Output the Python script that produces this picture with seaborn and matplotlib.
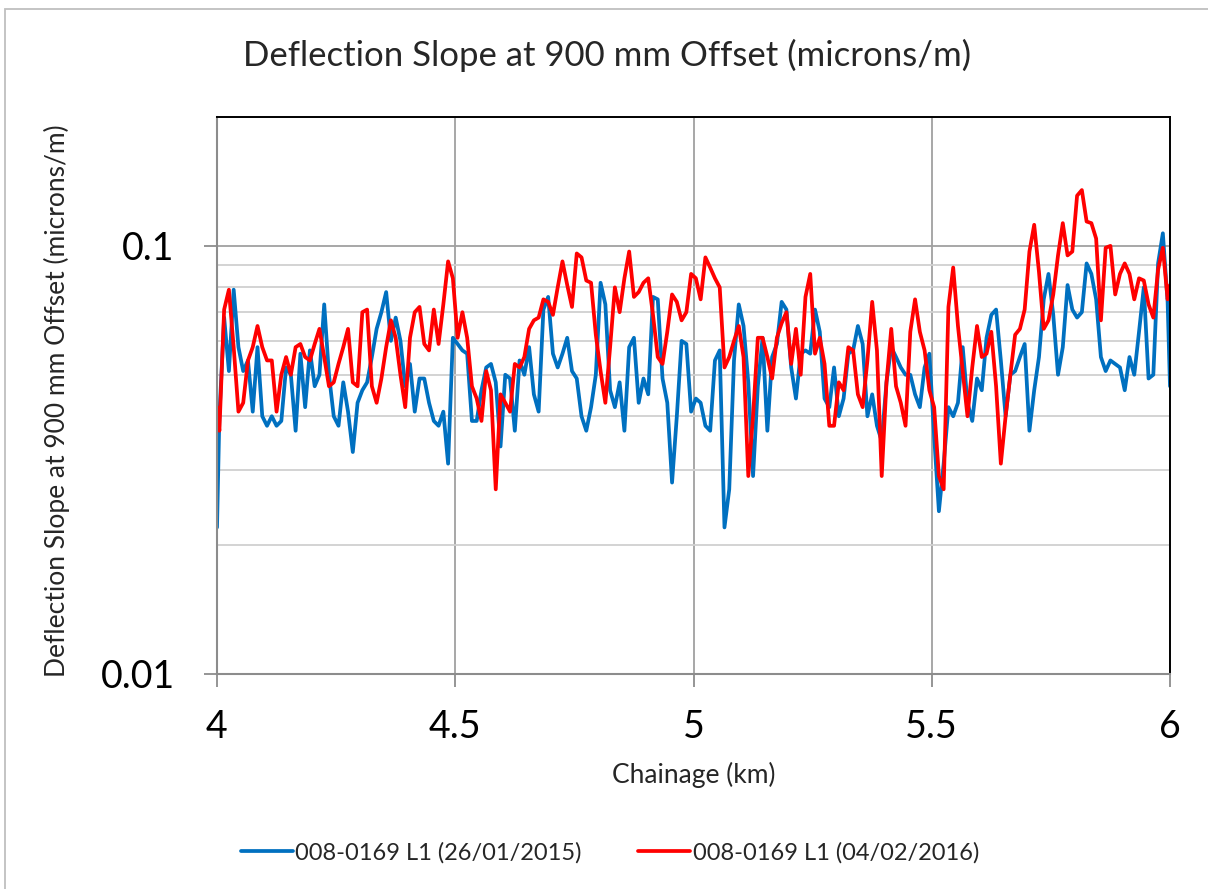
import numpy as np
import pandas as pd
import matplotlib
matplotlib.use("Agg")
import matplotlib.pyplot as plt
import seaborn as sns
from matplotlib.ticker import LogLocator, NullFormatter, FixedLocator, FixedFormatter
from matplotlib.patches import Rectangle

# ---- data -------------------------------------------------------------
chainage = np.concatenate(([4.0], np.round(np.arange(4.005, 5.9951, 0.01), 3), [6.0]))

series_2015 = [0.022,
    0.040, 0.068, 0.051, 0.079, 0.058, 0.051, 0.054, 0.041, 0.058, 0.040,
    0.038, 0.040, 0.038, 0.039, 0.052, 0.050, 0.037, 0.056, 0.042, 0.057,
    0.047, 0.050, 0.073, 0.050, 0.040, 0.038, 0.048, 0.041, 0.033, 0.043,
    0.046, 0.048, 0.055, 0.064, 0.070, 0.078, 0.060, 0.068, 0.060, 0.047,
    0.053, 0.041, 0.049, 0.049, 0.043, 0.039, 0.038, 0.041, 0.031, 0.061,
    0.059, 0.057, 0.056, 0.039, 0.039, 0.046, 0.052, 0.053, 0.048, 0.034,
    0.050, 0.049, 0.037, 0.054, 0.050, 0.058, 0.045, 0.041, 0.071, 0.076,
    0.056, 0.052, 0.056, 0.061, 0.051, 0.049, 0.040, 0.037, 0.042, 0.050,
    0.082, 0.073, 0.046, 0.042, 0.048, 0.037, 0.058, 0.061, 0.043, 0.049,
    0.045, 0.076, 0.075, 0.049, 0.043, 0.028, 0.040, 0.060, 0.059, 0.041,
    0.044, 0.043, 0.038, 0.037, 0.054, 0.057, 0.022, 0.027, 0.054, 0.073,
    0.065, 0.048, 0.029, 0.047, 0.061, 0.037, 0.055, 0.059, 0.074, 0.071,
    0.052, 0.044, 0.056, 0.057, 0.056, 0.071, 0.063, 0.044, 0.042, 0.052,
    0.040, 0.044, 0.056, 0.057, 0.065, 0.059, 0.040, 0.045, 0.038, 0.035,
    0.048, 0.058, 0.055, 0.052, 0.050, 0.050, 0.045, 0.042, 0.052, 0.056,
    0.036, 0.024, 0.031, 0.042, 0.040, 0.043, 0.058, 0.043, 0.039, 0.049,
    0.046, 0.061, 0.069, 0.071, 0.054, 0.040, 0.050, 0.051, 0.055, 0.059,
    0.037, 0.046, 0.055, 0.075, 0.086, 0.069, 0.050, 0.058, 0.081, 0.071,
    0.068, 0.070, 0.091, 0.086, 0.075, 0.055, 0.051, 0.054, 0.053, 0.052,
    0.046, 0.055, 0.050, 0.063, 0.080, 0.049, 0.050, 0.091, 0.107, 0.074,
    0.047]

series_2016 = [0.042,
    0.037, 0.071, 0.079, 0.058, 0.041, 0.043, 0.054, 0.058, 0.065, 0.058,
    0.054, 0.054, 0.041, 0.050, 0.055, 0.050, 0.058, 0.059, 0.055, 0.054,
    0.059, 0.064, 0.055, 0.047, 0.048, 0.053, 0.058, 0.064, 0.048, 0.047,
    0.070, 0.071, 0.047, 0.043, 0.049, 0.058, 0.067, 0.061, 0.050, 0.042,
    0.061, 0.070, 0.072, 0.059, 0.057, 0.071, 0.059, 0.073, 0.092, 0.084,
    0.061, 0.070, 0.061, 0.047, 0.044, 0.039, 0.051, 0.046, 0.027, 0.045,
    0.043, 0.041, 0.053, 0.052, 0.055, 0.064, 0.067, 0.068, 0.075, 0.074,
    0.069, 0.080, 0.092, 0.081, 0.072, 0.096, 0.094, 0.083, 0.082, 0.062,
    0.051, 0.043, 0.058, 0.080, 0.070, 0.084, 0.097, 0.076, 0.078, 0.082,
    0.084, 0.069, 0.055, 0.053, 0.063, 0.077, 0.074, 0.067, 0.070, 0.086,
    0.084, 0.075, 0.094, 0.089, 0.084, 0.080, 0.052, 0.055, 0.060, 0.065,
    0.055, 0.029, 0.040, 0.061, 0.061, 0.055, 0.049, 0.061, 0.066, 0.070,
    0.053, 0.064, 0.050, 0.076, 0.086, 0.056, 0.061, 0.053, 0.038, 0.038,
    0.048, 0.046, 0.058, 0.057, 0.045, 0.042, 0.054, 0.074, 0.057, 0.029,
    0.048, 0.064, 0.047, 0.043, 0.038, 0.063, 0.075, 0.063, 0.057, 0.046,
    0.042, 0.029, 0.027, 0.072, 0.089, 0.065, 0.051, 0.040, 0.052, 0.065,
    0.055, 0.056, 0.063, 0.047, 0.031, 0.040, 0.050, 0.062, 0.064, 0.071,
    0.097, 0.112, 0.087, 0.064, 0.067, 0.077, 0.095, 0.113, 0.095, 0.097,
    0.131, 0.135, 0.114, 0.113, 0.104, 0.067, 0.099, 0.100, 0.077, 0.086,
    0.091, 0.086, 0.075, 0.084, 0.083, 0.073, 0.068, 0.088, 0.099, 0.075,
    0.081]

series_names = ["008-0169 L1 (26/01/2015)", "008-0169 L1 (04/02/2016)"]
series_colors = ["#0070C0", "#FF0000"]
x_ticks = [4, 4.5, 5, 5.5, 6]
x_tick_labels = ["4", "4.5", "5", "5.5", "6"]
y_ticks = [0.01, 0.1]
y_tick_labels = ["0.01", "0.1"]

df = pd.DataFrame({
    "Chainage (km)": np.concatenate([chainage, chainage]),
    "value": np.concatenate([series_2015, series_2016]),
    "series": [series_names[0]] * len(chainage) + [series_names[1]] * len(chainage),
})

# ---- plot -------------------------------------------------------------
sns.set_style("white")
plt.rcParams["font.family"] = ["Lato", "DejaVu Sans"]

fig = plt.figure(figsize=(12.08, 8.89), dpi=100)
ax = fig.add_axes([217 / 1208, 1 - 674 / 889, (1170 - 217) / 1208, (674 - 117) / 889])

sns.lineplot(data=df, x="Chainage (km)", y="value", hue="series",
             palette=series_colors, linewidth=2.7, ax=ax, estimator=None, sort=False)

ax.set_yscale("log")
ax.set_ylim(0.01, 0.2)
ax.set_xlim(4, 6)

ax.xaxis.set_major_locator(FixedLocator(x_ticks))
ax.xaxis.set_major_formatter(FixedFormatter(x_tick_labels))
ax.yaxis.set_major_locator(FixedLocator(y_ticks))
ax.yaxis.set_major_formatter(FixedFormatter(y_tick_labels))
ax.yaxis.set_minor_locator(LogLocator(base=10, subs=np.arange(2, 10)))
ax.yaxis.set_minor_formatter(NullFormatter())

ax.grid(True, which="major", axis="both", color="#A0A0A0", linewidth=1.3)
ax.grid(True, which="minor", axis="y", color="#D0D0D0", linewidth=1.3)
ax.set_axisbelow(True)

for side in ["left", "bottom"]:
    ax.spines[side].set_color("#8C8C8C")
    ax.spines[side].set_linewidth(1.5)
for side in ["top", "right"]:
    ax.spines[side].set_color("#000000")
    ax.spines[side].set_linewidth(1.4)

ax.tick_params(axis="both", which="major", direction="out", length=9.5, width=1.3,
               color="#8C8C8C", labelsize=27, labelcolor="black", left=True, bottom=True)
ax.tick_params(axis="x", which="major", pad=16)
ax.tick_params(axis="y", which="major", pad=21)
ax.tick_params(axis="y", which="minor", length=0, left=False)

ax.set_xlabel("Chainage (km)", fontsize=19)
ax.xaxis.set_label_coords(0.5, -0.158)
ax.set_ylabel("Deflection Slope at 900 mm Offset (microns/m)", fontsize=19)
ax.yaxis.set_label_coords(-0.154, 0.49)

fig.text(607 / 1208, 1 - 55 / 889, "Deflection Slope at 900 mm Offset (microns/m)",
         ha="center", va="center", fontsize=25)

handles, labels = ax.get_legend_handles_labels()
ax.get_legend().remove()
fig.legend(handles, labels, loc="center", bbox_to_anchor=(610 / 1208, 1 - 853 / 889),
           ncol=2, frameon=False, fontsize=17, handlelength=2.2, handletextpad=0.1,
           columnspacing=2.4)

# outer chart frame (only top and left edges fall inside the canvas)
fig.patches.append(Rectangle((5 / 1208, -0.02), 1.1, 1.02 - 9 / 889,
                             transform=fig.transFigure, fill=False,
                             edgecolor="#BFBFBF", linewidth=1.3))

fig.savefig("out.png", dpi=100)
